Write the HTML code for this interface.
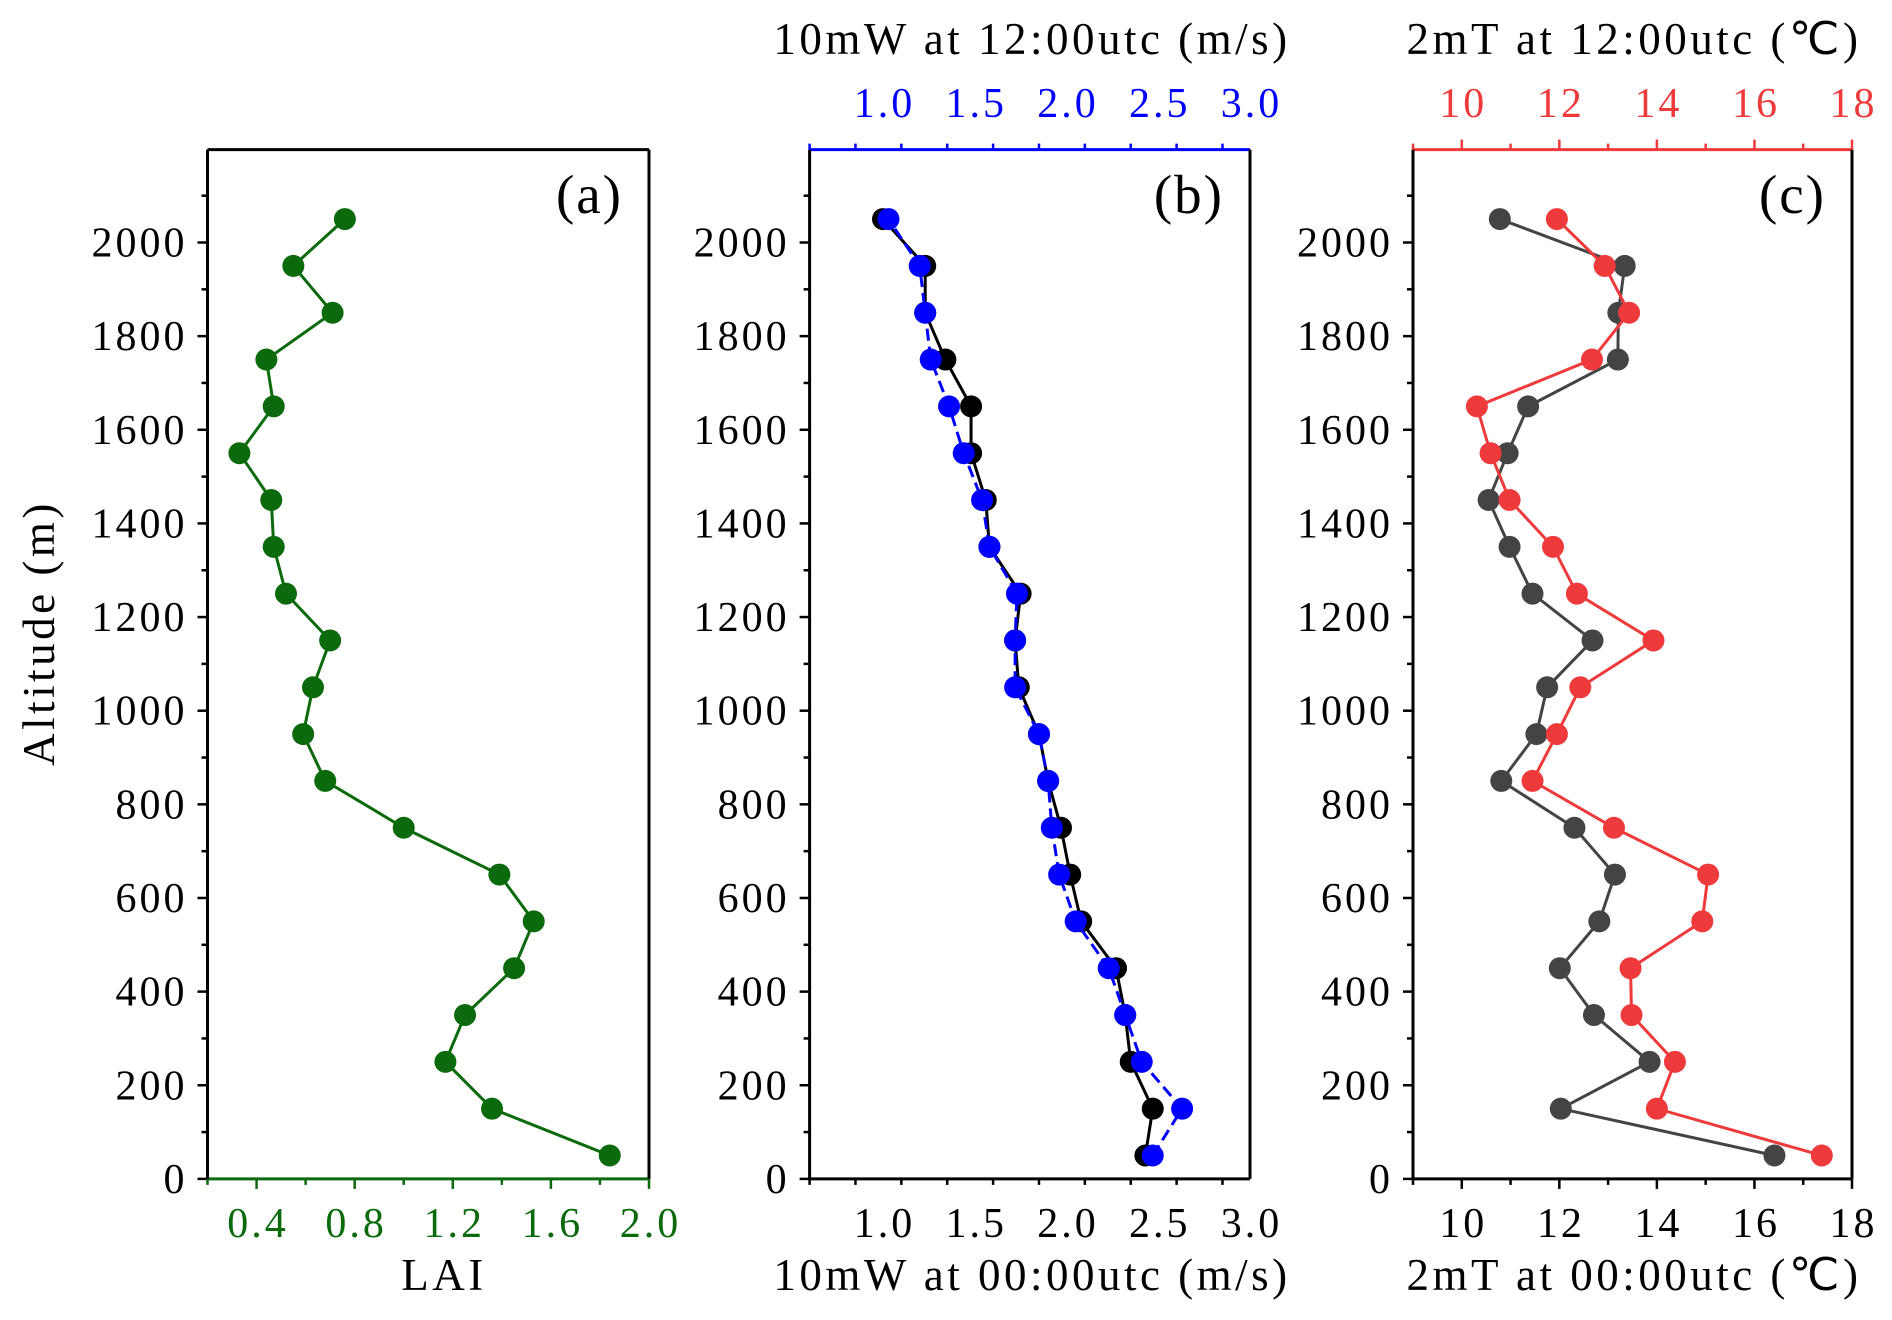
<!DOCTYPE html>
<html><head><meta charset="utf-8"><style>
html,body{margin:0;padding:0;background:#fff}
svg{display:block;font-family:"Liberation Serif",serif}
</style></head><body>
<svg id="chart" width="1892" height="1320" viewBox="0 0 1892 1320" xmlns="http://www.w3.org/2000/svg"></svg>
<script>
const altitudes=[50,150,250,350,450,550,650,750,850,950,1050,1150,1250,1350,1450,1550,1650,1750,1850,1950,2050];
const laiValues=[1.84,1.36,1.17,1.25,1.45,1.53,1.39,1.0,0.68,0.59,0.63,0.70,0.52,0.47,0.46,0.33,0.47,0.44,0.71,0.55,0.76];
const wind00=[2.43,2.47,2.35,2.32,2.27,2.08,2.02,1.97,1.90,1.85,1.74,1.72,1.75,1.58,1.56,1.48,1.48,1.34,1.23,1.23,1.0];
const wind12=[2.47,2.63,2.41,2.32,2.23,2.05,1.96,1.92,1.90,1.85,1.72,1.72,1.73,1.58,1.54,1.44,1.36,1.26,1.23,1.20,1.03];
const temp00=[16.41,12.03,13.85,12.71,12.01,12.82,13.14,12.31,10.81,11.53,11.75,12.68,11.45,10.98,10.55,10.94,11.36,13.2,13.21,13.34,10.78];
const temp12=[17.38,14.0,14.37,13.48,13.46,14.93,15.05,13.12,11.45,11.95,12.43,13.93,12.36,11.87,10.98,10.59,10.31,12.67,13.43,12.93,11.95];
const yTicks=[0,200,400,600,800,1000,1200,1400,1600,1800,2000];
const laiTicks=["0.4","0.8","1.2","1.6","2.0"];
const windTicks=["1.0","1.5","2.0","2.5","3.0"];
const tempTicks=["10","12","14","16","18"];

const NS="http://www.w3.org/2000/svg";
const svg=document.getElementById('chart');
function mk(tag,attrs,parent){const e=document.createElementNS(NS,tag);for(const k in attrs)e.setAttribute(k,attrs[k]);(parent||svg).appendChild(e);return e;}
const TOP=149.6,BOT=1178.9;
const yScale=v=>BOT-(v/1000)*(1178.9-242.5)/2;
const panels=[
 {id:'a',x0:207.5,x1:649,min:0.2,max:2.0},
 {id:'b',x0:809.6,x1:1250,min:0.6,max:3.0},
 {id:'c',x0:1413,x1:1852,min:9,max:18}
];
function xs(p){return v=>p.x0+(v-p.min)/(p.max-p.min)*(p.x1-p.x0);}

panels.forEach(p=>{
 const g=mk('g',{});
 
 
 const botCol=p.id==='a'?'#0b6a0b':'#000';
 mk('line',{x1:p.x0,y1:TOP,x2:p.x1,y2:TOP,stroke:p.id==='b'?'#0000ff':p.id==='c'?'#ee3a3a':'#000','stroke-width':3},g);
 mk('line',{x1:p.x0,y1:BOT,x2:p.x1,y2:BOT,stroke:botCol,'stroke-width':3},g);
 mk('line',{x1:p.x0,y1:TOP,x2:p.x0,y2:BOT,stroke:'#000','stroke-width':3},g);
 mk('line',{x1:p.x1,y1:TOP,x2:p.x1,y2:BOT,stroke:'#000','stroke-width':3},g);
 for(let v=0;v<=2100;v+=100){const y=yScale(v);const maj=v%200===0;
  mk('line',{x1:p.x0,y1:y,x2:p.x0-(maj?10:6),y2:y,stroke:'#000','stroke-width':2.5},g);}
 yTicks.forEach(v=>{const t=mk('text',{x:p.x0-20,y:yScale(v)+14,'text-anchor':'end','font-size':42,'letter-spacing':3,fill:'#000'},g);t.textContent=v;
  });
 const lab=mk('text',{x:p.x1-26,y:213,'text-anchor':'end','font-size':55,'letter-spacing':2,fill:'#000'},g);lab.textContent='('+p.id+')';
 
});

function xAxis(p,labels,step,minorStep,col,top){
 const X=xs(p);const y=top?TOP:BOT;const d=top?-1:1;
 for(let v=p.min;v<=p.max+1e-9;v+=minorStep){const maj=Math.abs((v/step)-Math.round(v/step))<1e-6;
  mk('line',{x1:X(v),y1:y,x2:X(v),y2:y+d*(maj?10:6),stroke:col,'stroke-width':2.5});}
 labels.forEach(s=>{const t=mk('text',{x:X(parseFloat(s))+1.5,y:top?117:1237,'text-anchor':'middle','font-size':42,'letter-spacing':3,fill:col});t.textContent=s;
  });
}
xAxis(panels[0],laiTicks,0.4,0.2,'#0b6a0b',false);
xAxis(panels[1],windTicks,0.5,0.25,'#000',false);
xAxis(panels[1],windTicks,0.5,0.25,'#0000ff',true);
xAxis(panels[2],tempTicks,2,1,'#000',false);
xAxis(panels[2],tempTicks,2,1,'#ee3a3a',true);

function title(x,y,s,name,rot){const t=mk('text',{x:x,y:y,'text-anchor':'middle','font-size':45,'letter-spacing':3.5,fill:'#000'});
 if(rot)t.setAttribute('transform','rotate(-90 '+x+' '+y+')');t.textContent=s;
 }
title(444,1290,'LAI','x-axis-title-lai');
title(1032,1290,'10mW at 00:00utc (m/s)','x-axis-title-wind-00');
title(1032,54,'10mW at 12:00utc (m/s)','x-axis-title-wind-12');
title(1634,1290,'2mT at 00:00utc (\u2103)','x-axis-title-temp-00');
title(1634,54,'2mT at 12:00utc (\u2103)','x-axis-title-temp-12');
title(54,633,'Altitude (m)','y-axis-title',true);

function series(p,vals,col,name,dash){
 const X=xs(p);const g=mk('g',{});
 
 const pts=vals.map((v,i)=>X(v)+','+yScale(altitudes[i])).join(' ');
 const pl=mk('polyline',{points:pts,fill:'none',stroke:col,'stroke-width':3},g);
 if(dash)pl.setAttribute('stroke-dasharray','12,6');
 vals.forEach((v,i)=>{const c=mk('circle',{cx:X(v),cy:yScale(altitudes[i]),r:11,fill:col},g);
  });
}
series(panels[0],laiValues,'#0b6a0b','lai-series');
series(panels[1],wind00,'#000','wind-00-series');
series(panels[1],wind12,'#0000ff','wind-12-series',true);
series(panels[2],temp00,'#444444','temp-00-series');
series(panels[2],temp12,'#ee3a3a','temp-12-series');
</script>
</body></html>
